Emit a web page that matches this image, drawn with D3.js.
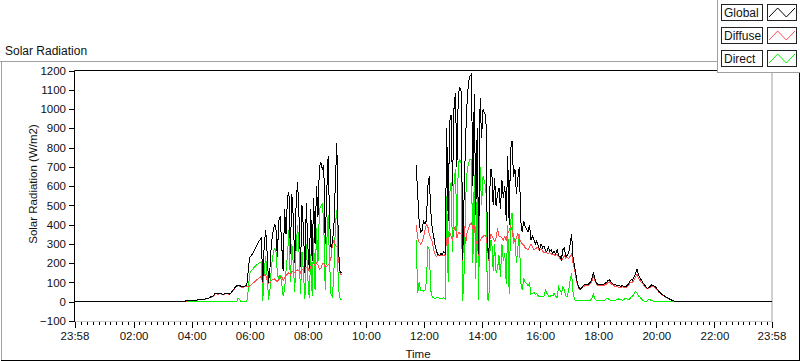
<!DOCTYPE html>
<html><head><meta charset="utf-8">
<script src="https://cdn.jsdelivr.net/npm/d3@7"></script>
<style>
html,body{margin:0;padding:0;background:#fff;}
svg{display:block;}
text{font-family:"Liberation Sans", Arial, sans-serif;fill:#111;}
</style></head><body>
<svg id="chart" width="800" height="361"></svg>
<script>
// ---------- data ----------
const chartTitle = "Solar Radiation";
const yAxisTitle = "Solar Radiation (W/m2)";
const xAxisTitle = "Time";
const xTickLabels = ["23:58","02:00","04:00","06:00","08:00","10:00","12:00","14:00","16:00","18:00","20:00","22:00","23:58"];
const yTickValues = [-100,0,100,200,300,400,500,600,700,800,900,1000,1100,1200];
const seriesNames = ["Global","Diffuse","Direct"];
const seriesColors = ["#000000","#ff4d4d","#00f000"];
const nightValue = 0;
const axisStartTime = "23:58";
const morningStart = "03:30";
const afternoonStart = "11:44";
const stepMinutes = 3;

const morningGlobal = [0,0,0,0,0, 3,4,4,5,5, 6,6,7,8,9, 11,12,13,13,14, 15,16,20,25,27, 30,42,45,40,44,
  42,40,38,42,45, 42,40,45,55,65, 75,82,87,84,80, 78,80,82,85,
  165,230,240,250,262,280,295,310,320,330,
  100,300,370,250,96,180,310,360,400,390,
  230,420,443,300,160,480,350,540,570,250,
  560,440,200,520,621,430,180,500,380,150,
  510,290,170,480,210,540,300,600,440,700,
  720,690,710,300,560,755,420,280,310,400,
  620,824,300,160,150];
const morningDiffuse = [0,0,0,0,0, 2,3,3,4,4, 5,5,6,7,8, 10,11,12,12,13, 14,15,19,23,25, 28,40,43,38,42,
  40,38,36,40,43, 40,38,43,52,62, 72,78,83,80,77, 75,77,79,80,
  79,82,88,95,100,108,115,120,126,131,
  100,139,139,110,95,100,110,115,120,110,
  105,115,125,130,110,125,135,145,150,140,
  155,160,150,160,165,160,150,170,165,150,
  180,175,160,180,190,200,185,200,190,170,
  175,195,200,180,185,190,200,230,300,321,
  290,287,250,150,140];
const morningDirect = [0,0,0,0,0,0,0,0,0,0, 0,0,0,0,0,0,0,0,0,0, 0,0,0,0,0,0,0,0,0,0, 0,0,0,0,0,0,0,0,0,0, 0,0,
  18,12, 0,0,0,0,0,
  60,148,160,168,178,185,192,198,203,208,
  5,160,235,130,10,70,190,240,278,270,
  150,110,140,96,30,60,160,240,373,100,
  300,200,50,290,399,250,40,260,150,15,
  300,120,20,250,30,330,60,380,200,480,
  495,513,400,60,300,450,200,40,25,160,
  400,477,80,20,10];

const afternoonGlobal = [711,560,420,360,370,420,405,420,600,650,
  470,380,341,290,260,245,240,250,245,260,
  250,900,420,930,970,600,1000,1084,700,1080,
  1110,1090,217,560,850,1030,1138,1170,1180,600,
  1080,450,900,250,1058,850,997,980,960,300,
  220,685,685,500,640,495,560,590,480,633,
  540,600,420,755,400,789,833,650,690,560,
  640,700,420,360,420,390,380,360,400,320,
  340,325,300,315,290,270,300,280,290,265,
  260,285,262,270,250,262,245,270,240,235,
  220,270,280,235,240,255,300,351,230,183,
  140,96,75,65,72,85,90,92,88,95,
  100,120,153,120,100,90,88,92,90,90,
  95,100,110,113,105,95,90,88,85,84,
  82,80,84,80,78,82,90,105,115,110,
  130,145,170,140,125,113,100,90,80,70,
  72,80,87,85,80,75,65,55,48,40,
  35,30,25,20,16,12,8,5,2,0,
  0,0,0,0,0,0,0];
const afternoonDiffuse = [400,330,310,300,310,330,370,400,390,350,
  330,313,270,245,235,240,238,242,240,238,
  250,330,300,360,340,320,370,391,330,360,
  356,350,210,391,300,356,380,400,410,380,
  391,320,295,240,321,330,339,345,340,290,
  210,350,345,330,313,330,380,340,339,330,
  321,340,320,356,370,391,370,321,310,330,
  356,320,313,300,295,280,275,269,285,300,
  285,269,275,280,278,265,275,262,255,258,
  252,250,255,248,245,243,240,245,238,225,
  215,225,240,225,230,225,235,250,200,170,
  125,90,70,62,68,78,82,85,84,88,
  95,108,135,112,95,85,82,83,82,84,
  88,92,100,103,96,88,84,80,78,76,
  76,74,78,74,72,76,82,95,102,100,
  115,128,145,125,112,102,92,84,75,66,
  68,75,80,79,75,70,60,50,44,37,
  32,27,22,18,14,10,7,4,2,0,
  0,0,0,0,0,0,0];
const afternoonDirect = [320,44,100,60,61,55,61,100,287,270,
  60,25,20,18,20,22,18,15,18,20,
  15,550,103,560,620,260,610,690,360,720,
  737,720,5,160,530,670,720,737,737,200,
  660,120,580,10,700,500,650,620,600,10,
  8,320,320,160,300,150,170,240,130,300,
  210,250,90,400,40,420,460,300,330,200,
  280,350,100,60,120,100,95,80,100,40,
  44,50,38,44,30,27,25,27,30,60,
  44,30,27,35,30,44,30,20,78,60,
  44,78,61,30,27,60,110,148,50,10,
  5,5,6,5,4,6,5,5,8,5,
  6,20,37,15,6,5,5,7,6,5,
  8,15,18,10,8,6,5,7,12,15,
  12,10,8,12,18,14,10,15,25,30,
  40,53,45,30,25,15,8,2,0,5,
  12,10,6,4,3,3,2,2,1,1,
  0,0,0,0,0,0,0,0,0,0,
  0,0,0,0,0,0,0];

// ---------- helpers ----------
function hm(s){const [h,m]=s.split(":").map(Number);return h*60+m;}
const dayMinutes = 1440;
function fromAxis(s){return ((hm(s)-hm(axisStartTime))%dayMinutes+dayMinutes)%dayMinutes;}
function toPoints(startStr, vals){const t0=fromAxis(startStr);return vals.map((v,i)=>({t:t0+i*stepMinutes,v}));}

const svg = d3.select("#chart");
const W=800,H=361;
const plot = {left:74.5, right:771.5, top:70.5, bottom:321};
const x = d3.scaleLinear().domain([0,dayMinutes]).range([plot.left, plot.right]);
const y = d3.scaleLinear().domain([yTickValues[0], yTickValues[yTickValues.length-1]]).range([plot.bottom, plot.top]);

// outer frame
svg.append("rect").attr("x",0).attr("y",0).attr("width",W).attr("height",H).attr("fill","#fff");
svg.append("line").attr("x1",0).attr("x2",W).attr("y1",61.5).attr("y2",61.5).attr("stroke","#a0a0a0");
svg.append("line").attr("x1",1.5).attr("x2",1.5).attr("y1",61.5).attr("y2",H).attr("stroke","#a0a0a0");
svg.append("line").attr("x1",1).attr("x2",W).attr("y1",360.5).attr("y2",360.5).attr("stroke","#000");
svg.append("line").attr("x1",799.5).attr("x2",799.5).attr("y1",61).attr("y2",H).attr("stroke","#000");

svg.append("text").attr("x",5).attr("y",55).attr("font-size","12px").text(chartTitle);

// plot borders
svg.append("line").attr("x1",plot.right+0.5).attr("x2",plot.right+0.5).attr("y1",plot.top).attr("y2",plot.bottom+1.5).attr("stroke","#a0a0a0");
svg.append("line").attr("x1",plot.left).attr("x2",plot.right+1).attr("y1",plot.bottom+0.5).attr("y2",plot.bottom+0.5).attr("stroke","#c8c8c8");
svg.append("line").attr("x1",plot.left).attr("x2",plot.right+1).attr("y1",plot.top).attr("y2",plot.top).attr("stroke","#000");

// y axis
const yAxis = d3.axisLeft(y).tickValues(yTickValues).tickSize(5).tickPadding(3).tickFormat(d3.format("d"));
const gy = svg.append("g").attr("transform",`translate(${plot.left-0.5},0)`).call(yAxis);
gy.select(".domain").remove();
gy.selectAll(".tick line").attr("stroke","#000").attr("shape-rendering","crispEdges");
gy.selectAll("text").attr("font-size","11.5px").attr("font-family","Liberation Sans, Arial, sans-serif").attr("fill","#111");
svg.append("line").attr("x1",plot.left).attr("x2",plot.left).attr("y1",plot.top).attr("y2",plot.bottom+1).attr("stroke","#000");

// x axis
const majorPos = xTickLabels.map((s,i)=> i===xTickLabels.length-1 ? dayMinutes : fromAxis(s));
const minorPos = d3.range(0, dayMinutes, 12).map(m=> (m - fromAxis("00:00")*0 ) ).map(m=>{ // every 12 min from 00:00
  return (m + fromAxis("00:00")) % dayMinutes; }).filter(m=> majorPos.every(p=>Math.abs(p-m)>3));
const gxMinor = svg.append("g").attr("transform",`translate(0,${plot.bottom+1})`)
  .call(d3.axisBottom(x).tickValues(minorPos).tickSize(3).tickFormat(""));
gxMinor.select(".domain").remove();
gxMinor.selectAll(".tick line").attr("stroke","#000").attr("shape-rendering","crispEdges");
const gx = svg.append("g").attr("transform",`translate(0,${plot.bottom+1})`)
  .call(d3.axisBottom(x).tickValues(majorPos).tickSize(6).tickPadding(4).tickFormat((d,i)=>xTickLabels[i]));
gx.select(".domain").remove();
gx.selectAll(".tick line").attr("stroke","#000").attr("shape-rendering","crispEdges");
gx.selectAll("text").attr("font-size","11.5px").attr("font-family","Liberation Sans, Arial, sans-serif").attr("fill","#111");

svg.append("text").attr("x",418).attr("y",358).attr("text-anchor","middle").attr("font-size","11.5px").text(xAxisTitle);
svg.append("text").attr("transform","translate(37,184) rotate(-90)").attr("text-anchor","middle").attr("font-size","11.5px").text(yAxisTitle);

// series
const line = d3.line().x(d=>x(d.t)).y(d=>y(d.v));
const globalSegs = [
  [{t:0,v:nightValue}, ...toPoints(morningStart, morningGlobal)],
  [...toPoints(afternoonStart, afternoonGlobal), {t:dayMinutes,v:nightValue}]
];
const diffuseSegs = [toPoints(morningStart, morningDiffuse), toPoints(afternoonStart, afternoonDiffuse)];
const directSegs = [toPoints(morningStart, morningDirect), toPoints(afternoonStart, afternoonDirect)];
const seriesSegs = [globalSegs, diffuseSegs, directSegs];
const drawOrder = [2,1,0];
const gLines = svg.append("g");
drawOrder.forEach(k=>{
  seriesSegs[k].forEach(seg=>{
    gLines.append("path").attr("d",line(seg)).attr("fill","none").attr("stroke",seriesColors[k]).attr("stroke-width",1)
      .attr("shape-rendering","crispEdges");
  });
});

// legend
const lg = svg.append("g");
lg.append("rect").attr("x",717.5).attr("y",-2).attr("width",90).attr("height",74.5).attr("fill","#fff").attr("stroke","#a0a0a0");
const legendRowY = [4,27,50];
seriesNames.forEach((name,i)=>{
  const y0 = legendRowY[i];
  lg.append("rect").attr("x",721.5).attr("y",y0+0.5).attr("width",41).attr("height",16).attr("fill","#fff").attr("stroke","#222");
  lg.append("text").attr("x",724).attr("y",y0+13).attr("font-size","12px").text(name);
  lg.append("rect").attr("x",767.5).attr("y",y0+0.5).attr("width",29).attr("height",16).attr("fill","#fff").attr("stroke","#222");
  const sx = d3.scaleLinear().domain([0,3]).range([769,795]);
  const zig = [[0,1],[1,0],[2,1],[3,0]];
  lg.append("path").attr("d", d3.line().x(d=>sx(d[0])).y(d=>y0 + (d[1]===1?13:4))(zig))
    .attr("fill","none").attr("stroke",seriesColors[i]).attr("stroke-width",1);
});
</script>
</body></html>
